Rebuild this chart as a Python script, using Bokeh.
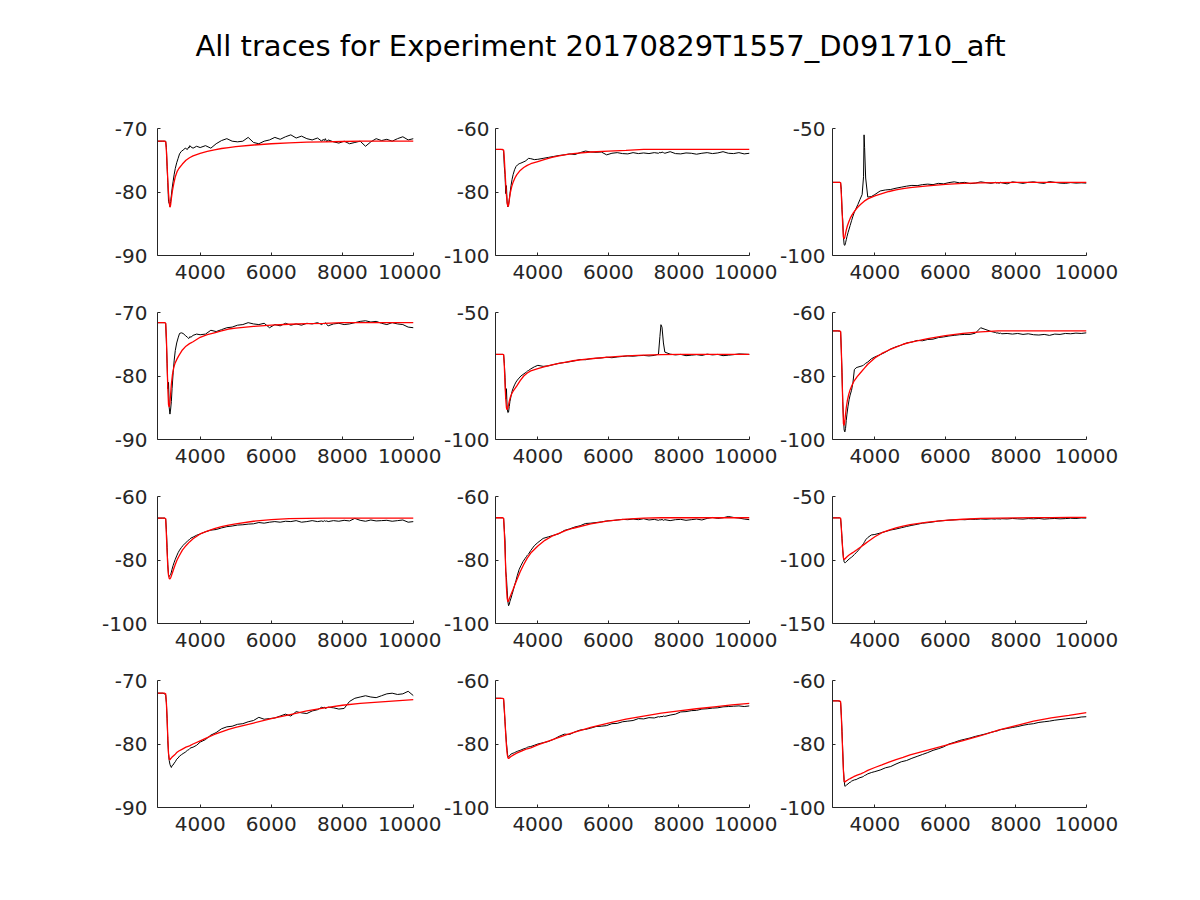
from bokeh.plotting import figure
from bokeh.layouts import column, row
from bokeh.models import Range1d, FixedTicker, Label
from bokeh.embed import file_html
from bokeh.resources import INLINE

TITLE = "All traces for Experiment 20170829T1557_D091710_aft"

x_limits = (2800, 10000)
x_ticks = [4000, 6000, 8000, 10000]
y_limits = [(-90, -70), (-100, -60), (-100, -50),
            (-90, -70), (-100, -50), (-100, -60),
            (-100, -60), (-100, -60), (-150, -50),
            (-90, -70), (-100, -60), (-100, -60)]
y_ticks = [[-90, -80, -70], [-100, -80, -60], [-100, -50],
           [-90, -80, -70], [-100, -50], [-100, -80, -60],
           [-100, -80, -60], [-100, -80, -60], [-150, -100, -50],
           [-90, -80, -70], [-100, -80, -60], [-100, -80, -60]]

# sample times of the recorded traces (black)
t_trace = [2800, 2950, 3000, 3030, 3050, 3070, 3090, 3110, 3130, 3150,
           3170, 3190, 3210, 3240, 3270, 3300, 3340, 3380, 3420, 3470,
           3520, 3580, 3640, 3680, 3695, 3710, 3740, 3800, 3900, 4000,
           4150, 4300, 4450, 4600, 4750, 4900, 5050, 5200, 5350, 5500,
           5650, 5800, 5950, 6100, 6250, 6400, 6550, 6700, 6850, 7000,
           7150, 7300, 7420, 7460, 7490, 7520, 7560, 7600, 7750, 7900,
           8050, 8200, 8350, 8500, 8650, 8800, 8950, 9100, 9250, 9400,
           9550, 9700, 9850, 10000]

# sample times of the fitted curves (red)
t_fit = [2800, 3000, 3030, 3050, 3070, 3090, 3110, 3130, 3150, 3170, 3190, 3220,
         3260, 3300, 3350, 3400, 3500, 3600, 3700, 3800, 4000, 4200, 4400, 4600,
         4800, 5000, 5500, 6000, 6500, 7000, 7500, 8000, 8500, 9000, 9500, 10000]

trace_1 = [-72.0, -72.0, -72.0, -72.0, -73.0, -76.0, -78.5, -81.5, -81.8, -82.3,
           -81.5, -80.5, -79.5, -78.3, -77.2, -76.3, -75.4, -74.7, -74.0, -73.6,
           -73.4, -73.1, -73.3, -72.9, -73.0, -72.7, -72.9, -73.1, -72.8, -73.0,
           -72.7, -73.1, -72.4, -71.9, -71.6, -72.0, -72.1, -72.0, -71.4, -72.2,
           -72.4, -72.0, -71.8, -71.4, -71.7, -71.3, -71.0, -71.5, -71.2, -71.6,
           -71.8, -71.5, -72.0, -71.7, -71.9, -71.6, -72.1, -71.8, -72.1, -72.3,
           -72.0, -72.4, -72.2, -72.0, -72.8, -72.1, -71.6, -71.9, -71.7, -72.0,
           -71.6, -71.3, -71.8, -71.6]
fit_1 = [-72.0, -72.0, -72.1, -73.5, -75.8, -78.2, -80.2, -81.6, -82.4, -82.0, -81.0, -79.8,
         -78.6, -77.6, -76.8, -76.3, -75.6, -75.0, -74.6, -74.3, -73.9, -73.6, -73.35, -73.15,
         -73.0, -72.85, -72.6, -72.4, -72.25, -72.15, -72.1, -72.05, -72.0, -72.0, -72.0, -72.0]

trace_2 = [-66.6, -66.6, -66.7, -67.0, -72.0, -74.5, -80.5, -78.0, -83.5, -84.7,
           -84.0, -82.5, -80.5, -78.0, -76.0, -74.5, -73.0, -72.0, -71.5, -71.1,
           -70.9, -70.6, -70.3, -70.0, -69.9, -69.6, -69.4, -69.5, -69.8, -69.7,
           -69.4, -69.1, -68.8, -68.5, -68.3, -68.0, -68.2, -67.6, -67.1, -67.4,
           -67.5, -67.4, -68.3, -67.8, -67.6, -67.9, -68.0, -67.6, -67.9, -67.7,
           -67.9, -67.6, -67.8, -67.5, -67.7, -67.4, -67.6, -67.8, -67.3, -67.9,
           -68.0, -67.7, -67.8, -68.1, -67.8, -67.6, -67.9, -67.7, -67.3, -67.8,
           -67.9, -67.6, -68.0, -67.8]
fit_2 = [-66.6, -66.6, -66.8, -69.5, -73.5, -77.5, -81.0, -83.3, -84.6, -84.2, -82.5, -80.3,
         -78.3, -76.9, -75.6, -74.6, -73.2, -72.3, -71.6, -71.1, -70.4, -69.7, -69.1, -68.6,
         -68.2, -67.9, -67.4, -67.1, -66.9, -66.6, -66.6, -66.6, -66.6, -66.6, -66.6, -66.6]

trace_3 = [-71.2, -71.2, -71.2, -71.4, -74.0, -82.0, -86.0, -92.5, -95.8, -96.0,
           -95.0, -93.8, -92.6, -91.0, -89.6, -88.2, -86.3, -84.5, -82.9, -81.4,
           -79.9, -77.9, -76.0, -69.0, -52.5, -57.5, -69.5, -77.0, -76.8, -76.0,
           -74.6, -74.2, -74.0, -73.5, -73.1, -72.7, -72.4, -72.5, -72.1, -71.9,
           -72.1, -71.6, -71.8, -71.3, -71.0, -71.4, -71.2, -71.7, -71.5, -71.0,
           -71.3, -71.6, -71.2, -71.5, -71.3, -71.6, -71.2, -71.4, -71.8, -71.0,
           -71.3, -71.6, -71.2, -71.0, -71.4, -71.6, -70.9, -71.2, -71.5, -71.6,
           -71.3, -71.5, -71.4, -71.5]
fit_3 = [-71.2, -71.2, -71.3, -76.0, -82.0, -88.0, -92.8, -93.4, -92.6, -91.3, -90.0, -88.4,
         -86.8, -85.4, -84.1, -83.0, -81.2, -79.8, -78.6, -77.7, -76.5, -75.6, -74.8, -74.2,
         -73.7, -73.3, -72.6, -72.0, -71.6, -71.4, -71.3, -71.2, -71.2, -71.2, -71.2, -71.2]

trace_4 = [-71.6, -71.6, -71.6, -71.7, -74.5, -78.0, -82.0, -81.0, -85.0, -86.0,
           -85.2, -84.0, -82.0, -79.5, -77.5, -76.0, -74.8, -74.0, -73.3, -73.2,
           -73.3, -73.6, -73.9, -74.1, -74.0, -73.8, -73.9, -73.6, -73.4, -73.5,
           -73.4, -72.8, -73.0, -72.7, -72.4, -72.3, -72.0, -71.9, -71.6, -71.8,
           -71.9, -71.7, -72.4, -71.9, -72.1, -71.7, -72.0, -71.8, -72.0, -71.7,
           -71.8, -71.6, -71.9, -71.7, -71.8, -71.6, -71.9, -72.1, -71.8, -71.7,
           -71.9, -71.8, -71.6, -71.4, -71.3, -71.5, -71.4, -71.7, -71.9, -71.6,
           -71.8, -71.9, -72.3, -72.4]
fit_4 = [-71.6, -71.6, -71.7, -74.0, -78.0, -82.0, -84.5, -84.9, -84.2, -82.8, -81.3, -79.8,
         -78.6, -77.9, -77.3, -76.8, -75.9, -75.3, -74.9, -74.6, -73.9, -73.5, -73.2, -72.9,
         -72.6, -72.45, -72.2, -72.0, -71.85, -71.75, -71.7, -71.6, -71.6, -71.6, -71.6, -71.6]

trace_5 = [-66.5, -66.5, -66.5, -66.6, -70.0, -75.5, -84.0, -80.0, -87.5, -89.4,
           -89.2, -87.0, -85.0, -83.0, -81.0, -79.8, -78.5, -77.4, -76.6, -75.8,
           -75.0, -74.4, -73.8, -73.4, -73.2, -73.0, -72.8, -72.2, -71.4, -70.8,
           -71.2, -71.0, -70.5, -70.0, -69.7, -69.4, -69.0, -68.5, -68.6, -68.2,
           -68.0, -67.9, -67.6, -67.8, -67.5, -67.3, -67.1, -67.2, -67.0, -66.9,
           -67.1, -66.9, -66.4, -59.5, -54.8, -55.8, -62.0, -65.6, -66.4, -66.7,
           -66.5, -67.0, -66.8, -66.6, -66.9, -66.4, -66.7, -66.5, -67.0, -66.8,
           -66.6, -66.3, -66.4, -66.5]
fit_5 = [-66.5, -66.5, -66.6, -71.0, -78.0, -84.0, -87.5, -88.3, -87.6, -86.4, -85.0, -83.4,
         -82.0, -81.0, -80.0, -79.0, -76.8, -75.0, -73.8, -73.0, -72.1, -71.3, -70.6, -70.0,
         -69.5, -69.0, -68.2, -67.6, -67.1, -66.8, -66.6, -66.5, -66.5, -66.5, -66.5, -66.5]

trace_6 = [-65.8, -65.8, -65.9, -66.0, -72.0, -79.0, -88.0, -93.0, -97.0, -97.6,
           -96.5, -94.0, -92.0, -89.5, -87.5, -86.0, -84.5, -82.0, -78.0, -77.4,
           -77.2, -77.0, -76.8, -76.6, -76.4, -76.3, -76.0, -75.6, -74.6, -74.0,
           -73.3, -72.5, -71.5, -70.8, -70.3, -69.6, -69.3, -68.8, -68.9, -68.5,
           -68.4, -67.9, -67.7, -67.4, -67.2, -67.0, -66.9, -66.9, -66.5, -64.8,
           -65.4, -66.0, -66.3, -66.5, -66.4, -66.6, -66.5, -66.7, -66.6, -66.8,
           -66.6, -66.9, -66.7, -67.0, -67.1, -66.9, -67.2, -66.8, -66.9, -66.6,
           -66.7, -66.5, -66.6, -66.4]
fit_6 = [-65.8, -65.8, -66.0, -72.0, -80.0, -88.0, -95.0, -95.6, -94.0, -92.0, -90.0, -87.8,
         -85.8, -84.3, -83.0, -81.8, -80.2, -78.9, -77.6, -76.3, -74.3, -72.9, -71.8, -70.9,
         -70.0, -69.4, -68.2, -67.3, -66.6, -66.1, -65.8, -65.8, -65.8, -65.8, -65.8, -65.8]

trace_7 = [-66.8, -66.8, -66.8, -67.0, -70.5, -76.0, -81.5, -84.8, -85.2, -84.8,
           -84.6, -83.8, -82.9, -81.7, -80.7, -79.8, -78.7, -77.7, -76.9, -76.1,
           -75.4, -74.7, -74.1, -73.7, -73.6, -73.4, -73.1, -72.8, -72.2, -71.8,
           -71.1, -70.6, -70.4, -69.9, -69.5, -69.3, -69.0, -68.9, -68.7, -68.6,
           -68.2, -68.4, -68.1, -67.9, -68.1, -67.8, -67.9, -67.6, -68.1, -67.9,
           -67.6, -67.9, -67.7, -67.9, -67.6, -67.8, -67.7, -67.9, -67.6, -67.8,
           -67.5, -67.7, -66.9, -67.5, -67.8, -67.4, -67.7, -67.6, -67.5, -67.8,
           -67.6, -67.4, -68.1, -67.9]
fit_7 = [-66.8, -66.8, -67.0, -72.0, -77.5, -82.0, -84.8, -85.8, -86.0, -85.6, -85.0, -84.0,
         -82.7, -81.4, -80.0, -78.9, -76.9, -75.5, -74.3, -73.3, -71.8, -70.9, -70.1, -69.5,
         -69.0, -68.6, -67.8, -67.3, -67.0, -66.9, -66.8, -66.8, -66.8, -66.8, -66.8, -66.8]

trace_8 = [-66.7, -66.7, -66.7, -66.9, -70.5, -74.0, -83.5, -85.5, -89.5, -93.0,
           -94.4, -94.0, -93.0, -92.0, -90.8, -89.7, -88.0, -86.5, -84.8, -83.0,
           -81.8, -80.5, -79.5, -78.9, -78.6, -78.4, -78.1, -77.0, -75.5, -74.5,
           -73.2, -72.7, -72.2, -71.7, -70.7, -70.2, -69.6, -69.2, -68.5, -68.4,
           -68.2, -68.0, -67.7, -67.6, -67.4, -67.2, -67.3, -67.1, -67.3, -67.0,
           -67.4, -67.2, -67.5, -67.3, -67.4, -67.2, -67.5, -67.3, -67.6, -67.3,
           -67.2, -67.5, -67.3, -67.1, -67.4, -66.9, -66.6, -66.9, -66.7, -66.3,
           -66.6, -66.8, -67.1, -67.3]
fit_8 = [-66.7, -66.7, -66.9, -71.0, -77.0, -83.0, -88.5, -92.0, -93.1, -93.0, -92.3, -91.4,
         -90.3, -89.2, -87.8, -86.4, -83.7, -81.4, -79.4, -77.8, -75.6, -73.8, -72.5, -71.6,
         -70.7, -70.0, -68.6, -67.7, -67.1, -66.8, -66.7, -66.7, -66.7, -66.7, -66.7, -66.7]

trace_9 = [-66.8, -66.8, -66.8, -67.5, -74.0, -83.0, -92.0, -98.0, -101.5, -102.2,
           -102.0, -101.5, -100.8, -100.0, -99.3, -98.6, -97.8, -96.8, -95.7, -94.3,
           -92.8, -90.8, -88.6, -87.0, -86.3, -85.6, -84.1, -82.3, -80.3, -79.9,
           -78.8, -77.6, -76.4, -75.6, -74.6, -73.6, -72.7, -71.9, -71.0, -70.6,
           -70.0, -69.3, -69.0, -68.6, -68.4, -68.1, -68.3, -67.9, -68.0, -67.7,
           -67.9, -67.6, -67.8, -67.5, -67.7, -67.6, -67.8, -67.5, -67.7, -67.3,
           -67.6, -67.8, -67.4, -67.6, -67.3, -67.8, -67.5, -67.3, -67.6, -67.4,
           -67.1, -67.3, -66.9, -67.0]
fit_9 = [-66.8, -66.8, -67.0, -75.0, -84.0, -92.0, -98.5, -99.7, -99.2, -98.6, -98.0, -97.2,
         -96.3, -95.5, -94.6, -93.7, -91.8, -89.8, -87.7, -85.6, -81.7, -78.5, -76.4, -74.7,
         -73.3, -72.2, -70.2, -68.8, -67.9, -67.3, -67.0, -66.8, -66.7, -66.6, -66.5, -66.4]

trace_10 = [-72.0, -72.0, -72.1, -72.3, -73.5, -76.0, -79.5, -81.5, -82.6, -83.2,
            -83.5, -83.7, -83.4, -83.3, -83.0, -82.8, -82.4, -82.2, -81.9, -81.7,
            -81.5, -81.3, -81.0, -80.9, -80.8, -80.7, -80.6, -80.5, -80.2, -79.7,
            -79.3, -78.6, -78.2, -77.6, -77.3, -77.2, -76.9, -76.8, -76.5, -76.3,
            -75.8, -76.1, -76.0, -75.9, -75.6, -75.3, -75.6, -74.9, -75.1, -75.2,
            -74.8, -74.6, -74.2, -74.3, -74.2, -74.4, -74.3, -74.2, -74.3, -74.5,
            -74.4, -73.3, -72.8, -72.6, -72.4, -72.6, -72.7, -72.4, -72.1, -72.0,
            -72.2, -72.1, -71.7, -72.4]
fit_10 = [-72.0, -72.0, -72.1, -73.5, -76.0, -79.0, -81.5, -82.4, -82.5, -82.3, -82.2, -82.0,
          -81.8, -81.6, -81.3, -81.1, -80.8, -80.5, -80.3, -80.0, -79.5, -79.0, -78.5, -78.1,
          -77.7, -77.4, -76.7, -76.0, -75.4, -74.8, -74.3, -73.9, -73.6, -73.4, -73.2, -73.0]

trace_11 = [-65.6, -65.6, -65.7, -66.0, -69.5, -73.0, -76.5, -79.5, -82.0, -84.0,
            -84.1, -83.8, -83.5, -83.2, -83.0, -82.9, -82.7, -82.5, -82.3, -82.1,
            -81.9, -81.6, -81.4, -81.2, -81.1, -81.0, -80.9, -80.8, -80.4, -80.0,
            -79.6, -79.2, -78.5, -77.6, -76.9, -77.0, -76.2, -75.6, -75.4, -75.0,
            -74.5, -74.4, -74.2, -73.6, -73.5, -73.0, -72.8, -72.6, -72.0, -72.1,
            -71.7, -71.8, -71.4, -71.5, -71.3, -71.4, -71.2, -71.3, -70.9, -70.6,
            -69.9, -69.8, -69.5, -69.4, -69.0, -68.9, -68.7, -68.6, -68.3, -68.2,
            -68.1, -68.0, -68.2, -68.0]
fit_11 = [-65.6, -65.6, -65.8, -69.0, -73.0, -77.0, -80.5, -83.0, -84.3, -84.6, -84.4, -84.1,
          -83.8, -83.5, -83.2, -82.9, -82.4, -81.9, -81.5, -81.2, -80.3, -79.5, -78.7, -77.9,
          -77.1, -76.4, -74.8, -73.4, -72.2, -71.2, -70.3, -69.6, -68.9, -68.3, -67.7, -67.2]

trace_12 = [-66.4, -66.4, -66.5, -67.0, -71.0, -76.0, -82.0, -88.0, -91.5, -93.3,
            -93.2, -93.0, -92.8, -92.6, -92.2, -92.1, -91.7, -91.5, -91.3, -91.2,
            -90.9, -90.6, -90.4, -90.2, -90.1, -89.9, -89.8, -89.4, -89.0, -88.7,
            -88.2, -87.5, -87.1, -86.3, -85.6, -85.2, -84.5, -83.9, -83.3, -82.7,
            -82.0, -81.5, -80.9, -80.0, -79.5, -78.9, -78.5, -78.1, -77.6, -77.2,
            -76.8, -76.3, -76.0, -75.9, -75.8, -75.6, -75.5, -75.4, -75.1, -74.8,
            -74.5, -74.1, -73.8, -73.6, -73.2, -73.0, -72.8, -72.5, -72.3, -72.1,
            -71.9, -71.8, -71.5, -71.4]
fit_12 = [-66.4, -66.4, -66.7, -71.0, -77.0, -83.0, -88.5, -91.8, -92.0, -91.8, -91.6, -91.4,
          -91.1, -90.9, -90.6, -90.3, -89.8, -89.4, -88.9, -88.3, -87.4, -86.6, -85.7, -84.9,
          -84.2, -83.4, -81.9, -80.4, -78.9, -77.4, -75.6, -74.2, -72.8, -71.8, -71.0, -70.1]

traces = [trace_1, trace_2, trace_3, trace_4, trace_5, trace_6,
          trace_7, trace_8, trace_9, trace_10, trace_11, trace_12]
fits = [fit_1, fit_2, fit_3, fit_4, fit_5, fit_6,
        fit_7, fit_8, fit_9, fit_10, fit_11, fit_12]

for k, (tr, ft) in enumerate(zip(traces, fits)):
    if len(tr) != len(t_trace) or len(ft) != len(t_fit):
        raise ValueError(f"panel {k+1}: trace {len(tr)} / {len(t_trace)}, fit {len(ft)} / {len(t_fit)}")

# ---- layout (pixels) ----
FONT = "DejaVu Sans"
AX_COL = "#262626"
FRAME_W, FRAME_H = 256, 127
LEFT_B = [157, 52, 53]
RIGHT_B = [28, 28, 40]
TOP_B, BOT_B = 20, 37
Y_STANDOFF = [10, 6, 7]
X_STANDOFF = 9


def make_panel(i):
    c = i % 3
    p = figure(width=LEFT_B[c] + FRAME_W + RIGHT_B[c], height=TOP_B + FRAME_H + BOT_B,
               x_range=Range1d(*x_limits), y_range=Range1d(*y_limits[i]),
               output_backend="svg", toolbar_location=None,
               min_border_left=LEFT_B[c], min_border_right=RIGHT_B[c],
               min_border_top=TOP_B, min_border_bottom=BOT_B,
               outline_line_color=None)
    p.grid.visible = False
    p.xaxis.ticker = FixedTicker(ticks=x_ticks)
    p.yaxis.ticker = FixedTicker(ticks=y_ticks[i])
    p.xaxis.major_label_overrides = {v: str(v) for v in x_ticks}
    p.yaxis.major_label_overrides = {v: str(v) for v in y_ticks[i]}
    for ax in (p.xaxis[0], p.yaxis[0]):
        ax.axis_line_color = AX_COL
        ax.axis_line_width = 1
        ax.major_tick_line_color = AX_COL
        ax.minor_tick_line_color = None
        ax.major_tick_in = 3
        ax.major_tick_out = 0
        ax.major_label_text_font = FONT
        ax.major_label_text_font_size = "20px"
        ax.major_label_text_color = AX_COL
    p.xaxis[0].major_label_standoff = X_STANDOFF
    p.yaxis[0].major_label_standoff = Y_STANDOFF[c]
    p.line(t_trace, traces[i], line_color="black", line_width=1)
    p.line(t_fit, fits[i], line_color="#ff0000", line_width=1.3)
    return p


tf = figure(width=1200, height=108, x_range=Range1d(0, 1200), y_range=Range1d(0, 108),
            output_backend="svg", toolbar_location=None, min_border=0,
            x_axis_location=None, y_axis_location=None, outline_line_color=None)
tf.grid.visible = False
tf.add_layout(Label(x=600, y=63, text=TITLE, text_align="center", text_baseline="alphabetic",
                    text_font=FONT, text_font_size="29px", text_color="black"))

panels = [make_panel(i) for i in range(12)]
layout = column(tf, *[row(*panels[r * 3:(r + 1) * 3]) for r in range(4)])

open("out.html", "w").write(file_html(layout, INLINE))
